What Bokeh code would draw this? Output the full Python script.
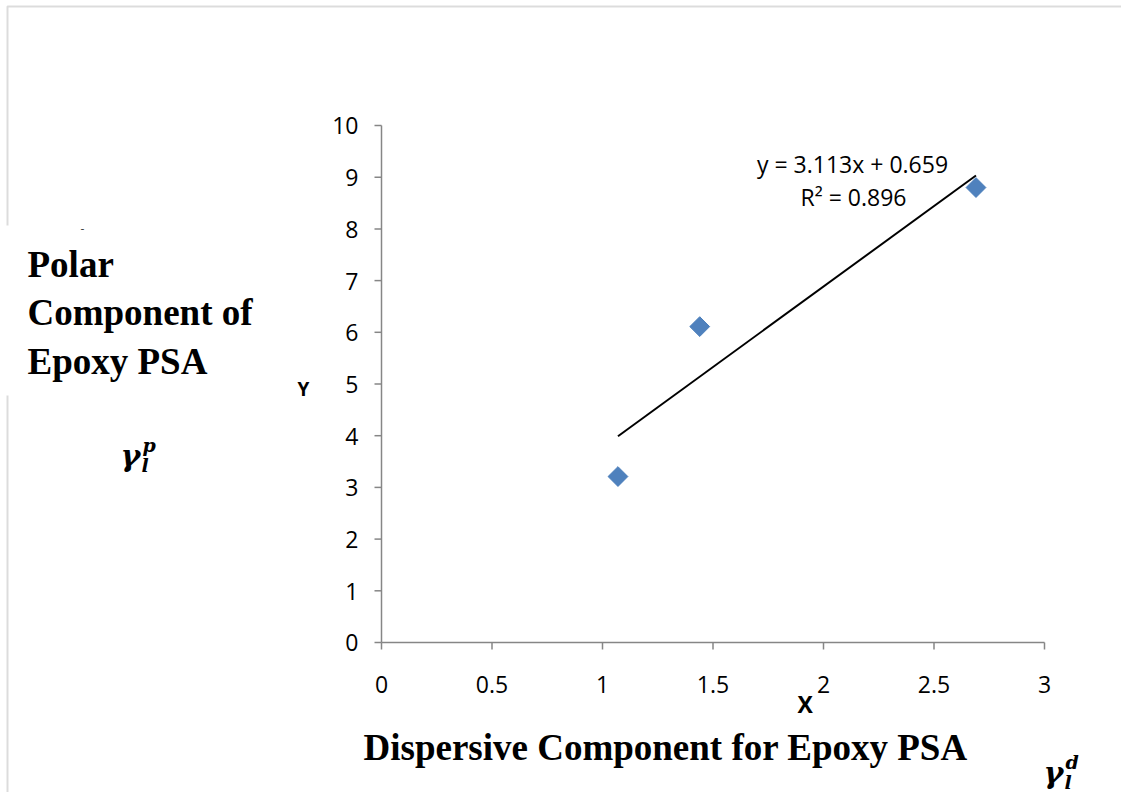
import math
from bokeh.plotting import figure
from bokeh.models import Range1d, Label, PolyAnnotation
from bokeh.core.properties import value
from bokeh.embed import file_html
from bokeh.resources import INLINE

# ---- data ----
x_values = [1.07, 1.44, 2.69]
y_values = [3.21, 6.11, 8.80]
trend_slope = 3.113
trend_intercept = 0.659
r_squared = 0.896
x_ticks = [0, 0.5, 1, 1.5, 2, 2.5, 3]
x_tick_labels = ["0", "0.5", "1", "1.5", "2", "2.5", "3"]
y_ticks = [0, 1, 2, 3, 4, 5, 6, 7, 8, 9, 10]
y_tick_labels = [str(v) for v in y_ticks]

# ---- layout: page pixels of the plot area ----
W, H = 1121, 792
L, R, T, B = 381, 77, 125, 150
x_lo, x_hi, y_lo, y_hi = 0, 3, 0, 10
sx = (W - L - R) / (x_hi - x_lo)
sy = (H - T - B) / (y_hi - y_lo)
SHIFT = 0.30  # baseline correction (fraction of font size)

def dx(px):
    return x_lo + (px - L) / sx

def dy(py):
    return y_lo + (H - B - py) / sy

p = figure(width=W, height=H, output_backend="svg", toolbar_location=None,
           x_range=Range1d(dx(0), dx(W)), y_range=Range1d(dy(H), dy(0)),
           x_axis_location=None, y_axis_location=None, min_border=0)
p.outline_line_color = None
p.xgrid.visible = False
p.ygrid.visible = False
p.background_fill_color = "white"
p.border_fill_color = "white"

AXC = "#868686"
TICK = 7
FSN = 23
FS = f"{FSN}px"
SANS = value("Open Sans")

# axis lines
p.segment(x0=[x_lo, x_lo], y0=[y_lo, y_lo], x1=[x_hi, x_lo], y1=[y_lo, y_hi],
          line_color=AXC, line_width=1.5)
# tick marks
p.segment(x0=x_ticks, y0=[y_lo] * len(x_ticks), x1=x_ticks,
          y1=[y_lo - TICK / sy] * len(x_ticks), line_color=AXC, line_width=1.5)
p.segment(x0=[x_lo] * len(y_ticks), y0=y_ticks, x1=[x_lo - TICK / sx] * len(y_ticks),
          y1=y_ticks, line_color=AXC, line_width=1.5)
# tick labels
p.text(x=x_ticks, y=[y_lo] * len(x_ticks), text=x_tick_labels, x_offset=0,
       y_offset=50 - 0.33 * FSN, text_align="center", text_baseline="alphabetic",
       text_font=SANS, text_font_size=FS, text_color="black")
p.text(x=[x_lo] * len(y_ticks), y=y_ticks, text=y_tick_labels, x_offset=-23,
       y_offset=8 - 0.33 * FSN, text_align="right", text_baseline="alphabetic",
       text_font=SANS, text_font_size=FS, text_color="black")

# trendline over data range
x0, x1 = min(x_values), max(x_values)
p.line([x0, x1], [trend_slope * x0 + trend_intercept, trend_slope * x1 + trend_intercept],
       line_color="black", line_width=2)

p.scatter(x_values, y_values, marker="square", angle=math.pi / 4, size=14,
          fill_color="#4F81BD", line_color="#4A7EBB", line_width=1)

def lab(text, px, py, font, size, style="normal", align="left", color="black"):
    p.add_layout(Label(x=dx(px), y=dy(py - SHIFT * size), text=text, text_font=font,
                       text_font_size=f"{size}px", text_font_style=style,
                       text_align=align, text_baseline="alphabetic",
                       text_color=color))

# equation
lab(f"y = {trend_slope}x + {trend_intercept}", 852, 170, "Open Sans", FSN, align="center")
lab(f"R² = {r_squared}", 853, 203, "Open Sans", FSN, align="center")

# titles
SERIF = "Liberation Serif"
lab("Polar", 27, 275, SERIF, 37, "bold")
lab("Component of", 27, 323, SERIF, 37, "bold")
lab("Epoxy PSA", 27, 372, SERIF, 37, "bold")
lab("Dispersive Component for Epoxy PSA", 363, 758, SERIF, 37, "bold")

# gamma symbols
GF = "DejaVu Serif"
lab("γ", 120, 464, GF, 30, "bold italic")
lab("p", 142, 450, GF, 19, "bold italic")
lab("l", 141, 470, GF, 19, "bold italic")
lab("γ", 1043, 781, GF, 30, "bold italic")
lab("d", 1065, 767, GF, 19, "bold italic")
lab("l", 1064, 787, GF, 19, "bold italic")

# stray axis-title fragments
lab("X", 797, 710, "Open Sans", FSN, "bold")
lab("Y", 297, 394, "Open Sans", 19, "bold")
lab("-", 80, 232, "Open Sans", 12, color="#444444")

# outer chart border (top and left, interrupted by a white text box)
BC = "#8a8a8a"
p.add_layout(PolyAnnotation(xs=[dx(7), dx(7), dx(1135), dx(7)],
                            ys=[dy(225), dy(6), dy(6), dy(6)],
                            fill_alpha=0, line_color=BC, line_width=2))
p.add_layout(PolyAnnotation(xs=[dx(7), dx(7)], ys=[dy(395), dy(805)],
                            fill_alpha=0, line_color=BC, line_width=2))

open("out.html", "w").write(file_html(p, INLINE))
